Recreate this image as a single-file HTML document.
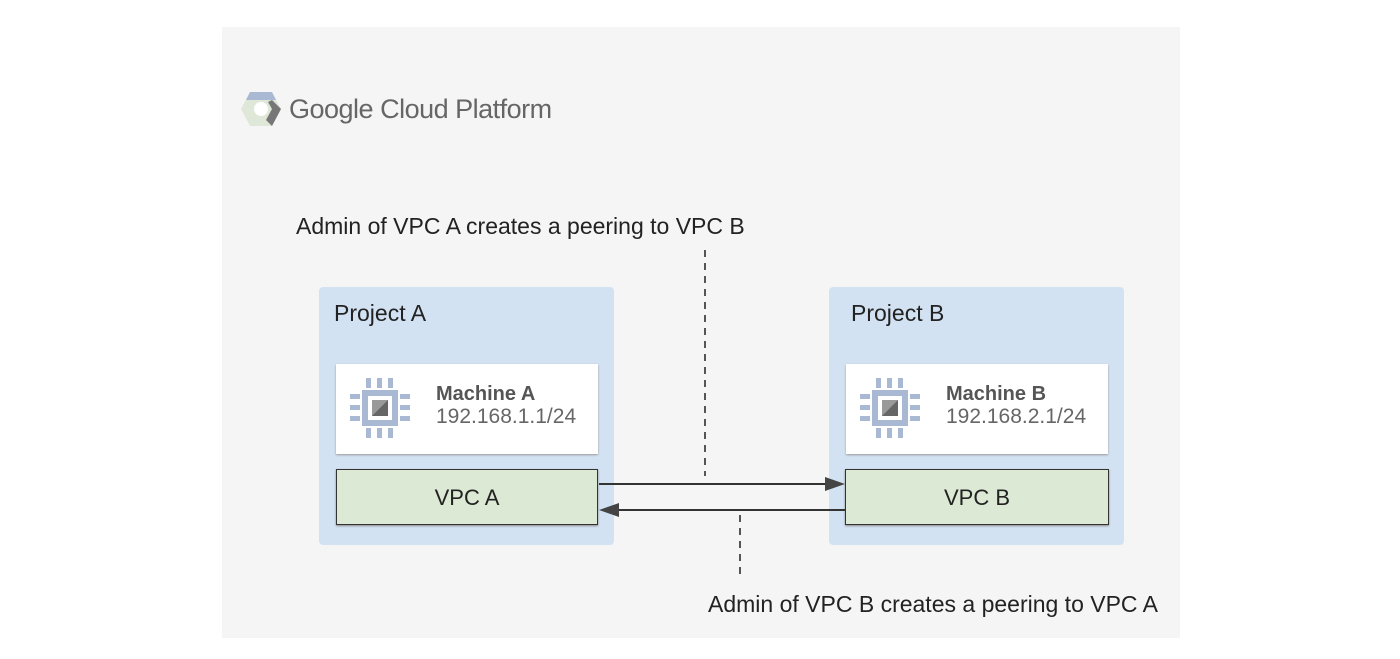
<!DOCTYPE html>
<html><head><style>
body{margin:0;width:1400px;height:659px;background:#fff;position:relative;font-family:"Liberation Sans",sans-serif;overflow:hidden}
.a{position:absolute}
</style></head><body>
<div class="a" style="left:222px;top:27px;width:958px;height:611px;background:#f5f5f5"></div>
<svg class="a" style="left:240px;top:90px" width="42" height="38" viewBox="0 0 42 38">
<polygon points="10,2 32,2 41,19 32,36 10,36 1,19" fill="#dfe8d8"/>
<polygon points="10,2 32,2 36,10 6,10" fill="#a9b9d3"/>
<polygon points="32,10 41,19 32,36 26,30 32,19 28,12" fill="#777"/>
<circle cx="21" cy="19" r="7" fill="#fff"/>
</svg>
<div class="a" style="left:289px;top:94px;font-size:27px;color:#666;letter-spacing:-0.5px">Google Cloud Platform</div>
<div class="a" style="left:296px;top:213px;font-size:23px;color:#222">Admin of VPC A creates a peering to VPC B</div>
<div class="a" style="left:708px;top:591px;font-size:23px;color:#222">Admin of VPC B creates a peering to VPC A</div>

<div class="a" style="left:319px;top:287px;width:295px;height:258px;background:#d3e2f2;border-radius:4px"></div>
<div class="a" style="left:829px;top:287px;width:295px;height:258px;background:#d3e2f2;border-radius:4px"></div>
<div class="a" style="left:334px;top:300px;font-size:23px;color:#222">Project A</div>
<div class="a" style="left:851px;top:300px;font-size:23px;color:#222">Project B</div>

<div class="a" style="left:336px;top:364px;width:262px;height:90px;background:#fff;box-shadow:0 1px 2px #999"></div>
<div class="a" style="left:846px;top:364px;width:262px;height:90px;background:#fff;box-shadow:0 1px 2px #999"></div>

<svg class="a" style="left:348px;top:376px" width="64" height="64" viewBox="0 0 64 64">
<g fill="#a9b9d3"><rect x="14" y="14" width="36" height="36"/>
<rect x="18" y="2" width="5" height="10"/><rect x="29" y="2" width="5" height="10"/><rect x="40" y="2" width="5" height="10"/>
<rect x="18" y="52" width="5" height="10"/><rect x="29" y="52" width="5" height="10"/><rect x="40" y="52" width="5" height="10"/>
<rect x="2" y="18" width="10" height="5"/><rect x="2" y="29" width="10" height="5"/><rect x="2" y="40" width="10" height="5"/>
<rect x="52" y="18" width="10" height="5"/><rect x="52" y="29" width="10" height="5"/><rect x="52" y="40" width="10" height="5"/></g>
<rect x="20" y="20" width="24" height="24" fill="#fff"/><rect x="24" y="24" width="16" height="16" fill="#999"/><polygon points="24,40 40,24 40,40" fill="#666"/>
</svg>
<svg class="a" style="left:858px;top:376px" width="64" height="64" viewBox="0 0 64 64">
<g fill="#a9b9d3"><rect x="14" y="14" width="36" height="36"/>
<rect x="18" y="2" width="5" height="10"/><rect x="29" y="2" width="5" height="10"/><rect x="40" y="2" width="5" height="10"/>
<rect x="18" y="52" width="5" height="10"/><rect x="29" y="52" width="5" height="10"/><rect x="40" y="52" width="5" height="10"/>
<rect x="2" y="18" width="10" height="5"/><rect x="2" y="29" width="10" height="5"/><rect x="2" y="40" width="10" height="5"/>
<rect x="52" y="18" width="10" height="5"/><rect x="52" y="29" width="10" height="5"/><rect x="52" y="40" width="10" height="5"/></g>
<rect x="20" y="20" width="24" height="24" fill="#fff"/><rect x="24" y="24" width="16" height="16" fill="#999"/><polygon points="24,40 40,24 40,40" fill="#666"/>
</svg>
<div class="a" style="left:436px;top:383px;font-size:20px;font-weight:bold;color:#555">Machine A</div>
<div class="a" style="left:436px;top:405px;font-size:21px;color:#666">192.168.1.1/24</div>
<div class="a" style="left:946px;top:383px;font-size:20px;font-weight:bold;color:#555">Machine B</div>
<div class="a" style="left:946px;top:405px;font-size:21px;color:#666">192.168.2.1/24</div>

<div class="a" style="left:336px;top:469px;width:260px;height:54px;background:#dce9d4;border:1px solid #333;box-shadow:0 1px 2px #888;text-align:center;line-height:56px;font-size:22px;color:#222">VPC A</div>
<div class="a" style="left:845px;top:469px;width:262px;height:54px;background:#dce9d4;border:1px solid #333;box-shadow:0 1px 2px #888;text-align:center;line-height:56px;font-size:22px;color:#222">VPC B</div>

<svg class="a" style="left:0;top:0" width="1400" height="659">
<line x1="705" y1="250" x2="705" y2="476" stroke="#555" stroke-width="2" stroke-dasharray="7,6"/>
<line x1="740" y1="515" x2="740" y2="580" stroke="#555" stroke-width="2" stroke-dasharray="7,6"/>
<line x1="599" y1="484" x2="828" y2="484" stroke="#333" stroke-width="2"/>
<polygon points="845,484 825,477 825,491" fill="#444"/>
<line x1="845" y1="510" x2="617" y2="510" stroke="#333" stroke-width="2"/>
<polygon points="599,510 619,503 619,517" fill="#444"/>
</svg>
</body></html>
